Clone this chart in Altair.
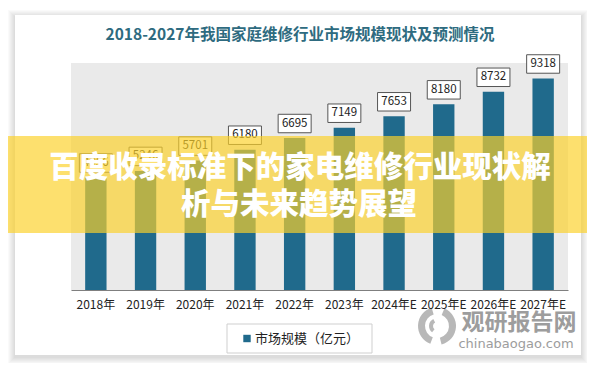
import altair as alt
import pandas as pd

# ---- data ----
years = ["2018年", "2019年", "2020年", "2021年", "2022年", "2023年",
         "2024年E", "2025年E", "2026年E", "2027年E"]
values = [4956, 5246, 5701, 6180, 6695, 7149, 7653, 8180, 8732, 9318]
y_ticks = [0, 1000, 2000, 3000, 4000, 5000, 6000, 7000, 8000, 9000, 10000]
title_text = "2018-2027年我国家庭维修行业市场规模现状及预测情况"
legend_text = "市场规模（亿元）"
banner_lines = ["百度收录标准下的家电维修行业现状解", "析与未来趋势展望"]
wm_cn = "观研报告网"
wm_en = "chinabaogao.com"

df = pd.DataFrame({"year": years, "value": values})
one = pd.DataFrame({"k": [0]})

W, H = 497, 227
FONT = "Noto Sans CJK SC"
BAR = "#206a8c"

base1 = alt.Chart(one)

# card shadow + card
shadow_layers = []
for e in range(7, 0, -1):
    shadow_layers.append(
        base1.mark_rect(color="#000000", opacity=0.018).encode(
            x=alt.value(-56 - e), x2=alt.value(510 + e),
            y=alt.value(-48 - e + 2), y2=alt.value(292 + e + 2))
    )
card = base1.mark_rect(color="#ffffff").encode(
    x=alt.value(-56), x2=alt.value(510), y=alt.value(-48), y2=alt.value(292))

# light hatched-looking plot background
hatch = base1.mark_rect(color="#eaeaea").encode(
    x=alt.value(0), x2=alt.value(W), y=alt.value(0), y2=alt.value(H))

base = alt.Chart(df)
xenc = alt.X("year:N", sort=years,
             scale=alt.Scale(paddingInner=0.57, paddingOuter=0.285),
             axis=alt.Axis(title=None, labelAngle=0, ticks=False, domain=True,
                           domainColor="#7f7f7f", domainWidth=1.2,
                           labelFont=FONT, labelFontSize=12, labelColor="#222222",
                           labelPadding=9, zindex=1))
yenc = alt.Y("value:Q", scale=alt.Scale(domain=[0, 10000], nice=False),
             axis=alt.Axis(title=None, values=y_ticks, grid=False, ticks=False,
                           domain=False, labelFont=FONT, labelFontSize=11.5,
                           labelColor="#333333", labelPadding=13, zindex=0))

bars = base.mark_bar(color=BAR).encode(x=xenc, y=yenc)

boxes = base.mark_point(
    shape="M-1,-0.56L1,-0.56L1,0.56L-1,0.56Z", size=1089, filled=False,
    fill="#ffffff", fillOpacity=1, stroke="#555555", strokeWidth=1, opacity=1,
    yOffset=-14.5
).encode(x=alt.X("year:N", sort=years), y="value:Q")

labels = base.mark_text(font=FONT, fontSize=11.5, color="#222222",
                        baseline="middle", dy=-14.5).encode(
    x=alt.X("year:N", sort=years), y="value:Q", text="value:Q")

banner = base1.mark_rect(color="#fcd12a", opacity=0.68).encode(
    x=alt.value(-70), x2=alt.value(530), y=alt.value(73), y2=alt.value(170))

banner_t1 = base1.mark_text(font=FONT, fontSize=29.5, fontWeight=900,
                            color="#ffffff", align="center", baseline="middle").encode(
    x=alt.value(229), y=alt.value(105), text=alt.value(banner_lines[0]))
banner_t2 = base1.mark_text(font=FONT, fontSize=29.5, fontWeight=900,
                            color="#ffffff", align="center", baseline="middle").encode(
    x=alt.value(228), y=alt.value(142), text=alt.value(banner_lines[1]))

title = base1.mark_text(font=FONT, fontSize=15.5, fontWeight="bold",
                        color="#2e6b80", align="center", baseline="middle").encode(
    x=alt.value(229), y=alt.value(-28), text=alt.value(title_text))

leg_box = base1.mark_rect(fill="#ffffff", stroke="#cfcfcf", strokeWidth=1).encode(
    x=alt.value(156), x2=alt.value(301), y=alt.value(261), y2=alt.value(290))
leg_sym = base1.mark_point(shape="square", filled=True, color=BAR, size=55,
                           opacity=1).encode(x=alt.value(176), y=alt.value(275.5))
leg_txt = base1.mark_text(font=FONT, fontSize=13, color="#222222", align="left",
                          baseline="middle").encode(
    x=alt.value(184), y=alt.value(275.5), text=alt.value(legend_text))

wm1 = base1.mark_text(font=FONT, fontSize=23, fontWeight="bold", color="#8c8c8c",
                      opacity=0.85, align="center", baseline="middle").encode(
    x=alt.value(448), y=alt.value(260), text=alt.value(wm_cn))
wm2 = base1.mark_text(font="DejaVu Sans", fontSize=13, color="#8c8c8c",
                      opacity=0.85, align="center", baseline="middle").encode(
    x=alt.value(445), y=alt.value(281), text=alt.value(wm_en))
logo_a = base1.mark_arc(radius=19, radius2=12, theta=0.4, theta2=2.9,
                        color="#9a9a9a", opacity=0.7).encode(
    x=alt.value(366), y=alt.value(263))
logo_b = base1.mark_arc(radius=19, radius2=12, theta=3.5, theta2=6.0,
                        color="#9a9a9a", opacity=0.7).encode(
    x=alt.value(366), y=alt.value(263))
logo_c = base1.mark_arc(radius=8, radius2=4, theta=3.8, theta2=5.8,
                        color="#9a9a9a", opacity=0.7).encode(
    x=alt.value(366), y=alt.value(263))

chart = alt.layer(
    *shadow_layers, card, hatch, bars, boxes, labels,
    banner, banner_t1, banner_t2, title,
    leg_box, leg_sym, leg_txt, wm1, wm2, logo_a, logo_b, logo_c
).properties(
    width=W, height=H,
    autosize=alt.AutoSizeParams(type="none"),
    padding={"left": 63, "top": 55, "right": 19, "bottom": 73},
    background="#ffffff",
).configure_view(stroke=None)

chart.save("out.html", embed_options={"renderer": "svg", "actions": False})
